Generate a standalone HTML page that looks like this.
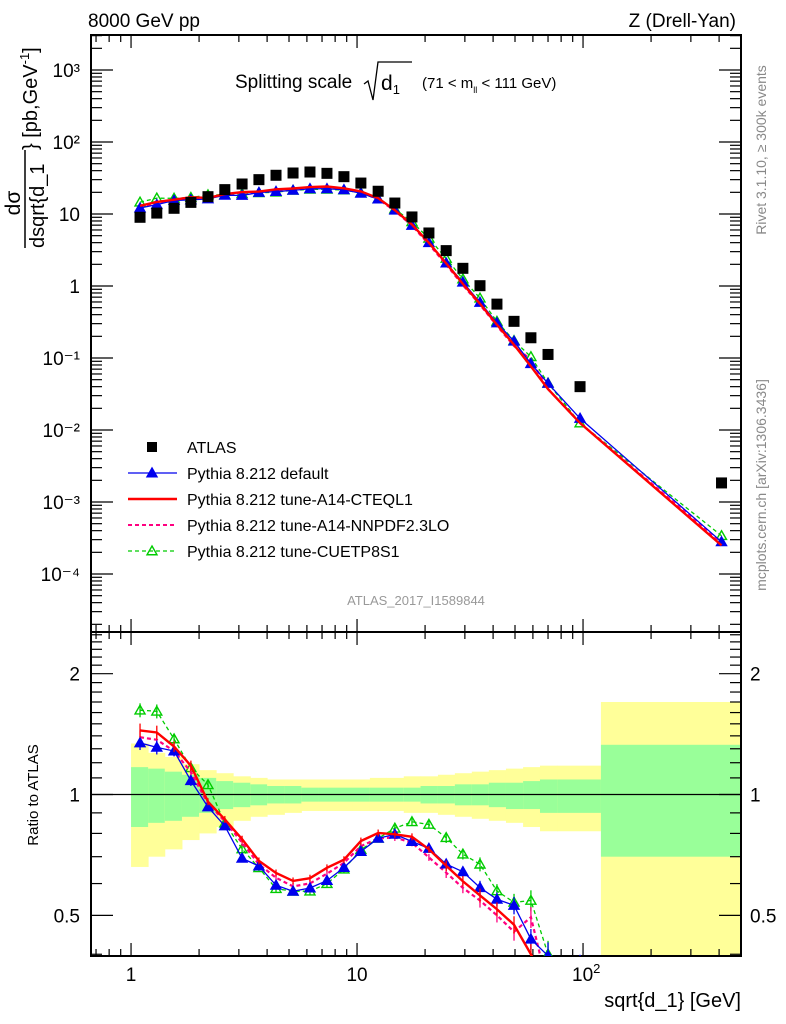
<!DOCTYPE html>
<html><head><meta charset="utf-8">
<style>
html,body{margin:0;padding:0;background:#fff;overflow:hidden;}
svg{display:block;font-family:"Liberation Sans","DejaVu Sans",sans-serif;}
</style></head>
<body>
<svg id="chart" width="786" height="1024" viewBox="0 0 786 1024" xmlns="http://www.w3.org/2000/svg">
<text x="88" y="27" font-size="19">8000 GeV pp</text>
<text x="736" y="27" font-size="19" text-anchor="end">Z (Drell-Yan)</text>
<text x="235" y="88" font-size="19">Splitting scale</text>
<path d="M364 84 L368 81 L373 100 L378 62 L412 62" stroke="#000" stroke-width="1.3" fill="none"/>
<text x="381" y="90" font-size="21">d<tspan font-size="13" dy="4">1</tspan></text>
<text x="422" y="88" font-size="15">(71 &lt; m<tspan font-size="9" dy="5">ll</tspan><tspan dy="-5"> &lt; 111 GeV)</tspan></text>
<text transform="translate(766,150) rotate(-90)" font-size="14" fill="#888" text-anchor="middle">Rivet 3.1.10, ≥ 300k events</text>
<text transform="translate(766,485) rotate(-90)" font-size="14" fill="#888" text-anchor="middle">mcplots.cern.ch [arXiv:1306.3436]</text>
<text x="416" y="605" font-size="13" fill="#999" text-anchor="middle">ATLAS_2017_I1589844</text>
<g transform="rotate(-90)">
<text x="-203" y="20" font-size="21" text-anchor="middle">dσ</text>
<line x1="-248" y1="25" x2="-150" y2="25" stroke="#000" stroke-width="1.5"/>
<text x="-248" y="44" font-size="20">dsqrt{d_1</text>
<text x="-150" y="37" font-size="20">} [pb,GeV<tspan font-size="13" dy="-8">-1</tspan><tspan dy="8">]</tspan></text>
</g>
<text transform="translate(38,795) rotate(-90)" font-size="15" text-anchor="middle">Ratio to ATLAS</text>
<text x="741" y="1007" font-size="20" text-anchor="end">sqrt{d_1} [GeV]</text>
<g id="g"></g>
</svg>
<script>
// ---- data ----
const xCenters = [1.096,1.30,1.55,1.84,2.19,2.60,3.10,3.68,4.38,5.21,6.19,7.36,8.75,10.4,12.4,14.7,17.5,20.8,24.8,29.4,35.0,41.6,49.5,58.8,70.0,97,410];
const binEdges = [1.0,1.19,1.41,1.68,2.0,2.38,2.83,3.37,4.0,4.77,5.67,6.75,8.03,9.55,11.4,13.5,16.1,19.1,22.8,27.1,32.2,38.3,45.6,54.3,64.5,76.8,120,500];
const atlasValues = [9.0,10.3,12.0,14.5,17.4,21.8,26.1,30.0,34.5,37.1,38.3,36.7,33.0,26.9,20.7,14.2,9.1,5.45,3.1,1.76,1.01,0.56,0.323,0.191,0.112,0.040,0.00184];
const pyDefault = [12.1,13.5,15.4,15.7,16.2,18.2,18.1,19.9,20.5,21.3,22.4,22.4,21.7,19.4,16.1,11.3,6.95,4.0,2.08,1.13,0.592,0.307,0.171,0.0833,0.0444,0.0145,0.00028];
const pyCTEQ = [13.0,14.7,15.8,17.1,16.7,18.9,20.2,20.5,22.0,22.6,23.7,24.1,22.7,20.6,16.6,11.3,7.14,3.98,2.06,1.07,0.566,0.290,0.153,0.0764,0.037,0.0125,0.00025];
const pyNNPDF = [12.5,14.1,15.4,16.5,16.5,18.7,19.8,20.1,21.4,21.9,23.0,23.3,22.3,20.0,16.1,11.1,6.9,3.8,1.98,1.03,0.55,0.28,0.147,0.0945,0.037,0.0125,0.00027];
const pyCUETP = [14.6,16.6,16.5,16.9,18.4,18.5,19.1,19.7,20.1,21.3,22.0,22.0,21.5,19.6,16.1,11.7,7.78,4.59,2.42,1.25,0.677,0.322,0.174,0.104,0.0448,0.0125,0.00034];
const yellowUp = [1.34,1.27,1.24,1.19,1.15,1.13,1.11,1.10,1.09,1.09,1.09,1.09,1.09,1.09,1.10,1.10,1.11,1.11,1.12,1.13,1.14,1.15,1.16,1.17,1.18,1.18,1.70];
const yellowDn = [0.66,0.70,0.73,0.77,0.80,0.83,0.86,0.88,0.89,0.90,0.91,0.91,0.91,0.91,0.91,0.91,0.90,0.90,0.89,0.88,0.87,0.86,0.85,0.83,0.81,0.81,0.30];
const greenUp = [1.17,1.16,1.14,1.12,1.10,1.08,1.07,1.06,1.05,1.05,1.04,1.04,1.04,1.04,1.04,1.04,1.04,1.05,1.05,1.06,1.06,1.07,1.07,1.08,1.09,1.09,1.33];
const greenDn = [0.83,0.85,0.86,0.88,0.90,0.92,0.93,0.94,0.95,0.95,0.96,0.96,0.96,0.96,0.96,0.96,0.96,0.95,0.95,0.94,0.94,0.93,0.92,0.92,0.90,0.90,0.70];
const mcRelErr = [0.04,0.04,0.03,0.03,0.02,0.02,0.02,0.02,0.02,0.02,0.02,0.02,0.02,0.02,0.02,0.02,0.02,0.02,0.03,0.03,0.04,0.04,0.05,0.06,0.08,0.1,0.15];
const mainTicks = [3,2,1,0,-1,-2,-3,-4];
const mainTickLabels = ["10³","10²","10","1","10⁻¹","10⁻²","10⁻³","10⁻⁴"];

// ---- axes ----
const L=91,R=741,T1=35,B1=632,T2=632,B2=956;
const xMin=Math.log10(0.665),xMax=Math.log10(500);
const X=v=>L+(Math.log10(v)-xMin)/(xMax-xMin)*(R-L);
const yMainTop=3+(70-T1)/72, yMainBot=3-(B1-70)/72;
const Ym=v=>T1+(yMainTop-Math.log10(v))/(yMainTop-yMainBot)*(B1-T1);
const rTop=Math.log10(2.54), rBot=Math.log10(0.396);
const Yr=v=>T2+(rTop-Math.log10(v))/(rTop-rBot)*(B2-T2);

const NS='http://www.w3.org/2000/svg';
const g=document.getElementById('g');
function mk(tag,attrs,parent){const e=document.createElementNS(NS,tag);for(const k in attrs)e.setAttribute(k,attrs[k]);(parent||g).appendChild(e);return e;}

const defs=mk('defs',{});
const cp=mk('clipPath',{id:'rclip'},defs);mk('rect',{x:L,y:T2,width:R-L,height:B2-T2},cp);
const cpm=mk('clipPath',{id:'mclip'},defs);mk('rect',{x:L,y:T1,width:R-L,height:B1-T1},cpm);
const bands=mk('g',{'clip-path':'url(#rclip)'});


for(let i=0;i<xCenters.length;i++){
  const x0=X(binEdges[i]),x1=X(binEdges[i+1]);
  const y=mk('rect',{x:x0,y:Yr(yellowUp[i]),width:x1-x0+0.5,height:Yr(yellowDn[i])-Yr(yellowUp[i]),fill:'#ffff99'},bands);
  
  
  const gr=mk('rect',{x:x0,y:Yr(greenUp[i]),width:x1-x0+0.5,height:Yr(greenDn[i])-Yr(greenUp[i]),fill:'#99ff99'},bands);
  
  
}
const one=mk('line',{x1:L,x2:R,y1:Yr(1),y2:Yr(1),stroke:'#000','stroke-width':1.2});



function frame(top,bot,name){
  const f=mk('rect',{x:L,y:top,width:R-L,height:bot-top,fill:'none',stroke:'#000','stroke-width':2});
  
  
  for(let d=-1;d<=2;d++)for(let m=1;m<10;m++){const v=m*Math.pow(10,d);if(v<0.665||v>500)continue;const x=X(v);const len=m==1?13:7;
    mk('line',{x1:x,x2:x,y1:bot,y2:bot-len,stroke:'#000','stroke-width':1.2});
    mk('line',{x1:x,x2:x,y1:top,y2:top+len,stroke:'#000','stroke-width':1.2});}
}
frame(T1,B1,'main-plot-frame');frame(T2,B2,'ratio-plot-frame');
for(let d=-5;d<=3;d++)for(let m=1;m<10;m++){const v=m*Math.pow(10,d);const y=Ym(v);if(y<T1||y>B1)continue;const len=m==1?22:11;
  mk('line',{x1:L,x2:L+len,y1:y,y2:y,stroke:'#000','stroke-width':1.2});
  mk('line',{x1:R,x2:R-len,y1:y,y2:y,stroke:'#000','stroke-width':1.2});}
mainTicks.forEach((p,i)=>{const t=mk('text',{x:80,y:Ym(Math.pow(10,p))+7,'font-size':19,'text-anchor':'end'});t.textContent=mainTickLabels[i];
  
  });
[0.4,0.5,0.6,0.7,0.8,0.9,1,1.1,1.2,1.3,1.4,1.5,1.6,1.7,1.8,1.9,2,2.1,2.2,2.3,2.4,2.5].forEach(v=>{const y=Yr(v);if(y<T2||y>B2)return;const len=(v==0.5||v==1||v==2)?22:11;
  mk('line',{x1:L,x2:L+len,y1:y,y2:y,stroke:'#000','stroke-width':1.2});
  mk('line',{x1:R,x2:R-len,y1:y,y2:y,stroke:'#000','stroke-width':1.2});});
[[2,'2'],[1,'1'],[0.5,'0.5']].forEach(([v,s])=>{
  const t=mk('text',{x:80,y:Yr(v)+7,'font-size':19,'text-anchor':'end'});t.textContent=s;
  
  
  const t2=mk('text',{x:750,y:Yr(v)+7,'font-size':19});t2.textContent=s;
  
  });
[[1,'1'],[10,'10']].forEach(([v,s])=>{const t=mk('text',{x:X(v),y:981,'font-size':19,'text-anchor':'middle'});t.textContent=s;
  
  });
const t100=mk('text',{x:X(100)-11,y:981,'font-size':19});t100.innerHTML='10<tspan font-size="13" dy="-8">2</tspan>';



function tri(parent,x,y,col,filled,s){return mk('path',{d:`M${x} ${y-s} L${x+s} ${y+s*0.75} L${x-s} ${y+s*0.75} Z`,fill:filled?col:'none',stroke:col,'stroke-width':1.4},parent);}
const series=[
 {vals:pyCUETP,col:'#00cc00',dash:'4,3',w:1.3,mark:'open',name:'cuetp8s1'},
 {vals:pyNNPDF,col:'#ff0080',dash:'4,3',w:2.2,mark:'none',name:'a14-nnpdf'},
 {vals:pyDefault,col:'#0000ee',dash:'',w:1.3,mark:'filled',name:'default'},
 {vals:pyCTEQ,col:'#ff0000',dash:'',w:2.4,mark:'none',name:'a14-cteql1'}
];
series.forEach(s=>{
  const gm=mk('g',{'clip-path':'url(#mclip)'});
  
  
  const pts=s.vals.map((v,i)=>X(xCenters[i])+','+Ym(v)).join(' ');
  mk('polyline',{points:pts,fill:'none',stroke:s.col,'stroke-width':s.w,'stroke-dasharray':s.dash},gm);
  s.vals.forEach((v,i)=>{if(s.mark!='none')tri(gm,X(xCenters[i]),Ym(v),s.col,s.mark=='filled',5);});
  const gr=mk('g',{'clip-path':'url(#rclip)'});
  
  
  const r=s.vals.map((v,i)=>v/atlasValues[i]);
  mk('polyline',{points:r.map((v,i)=>X(xCenters[i])+','+Yr(v)).join(' '),fill:'none',stroke:s.col,'stroke-width':s.w,'stroke-dasharray':s.dash},gr);
  r.forEach((v,i)=>{const x=X(xCenters[i]);
    mk('line',{x1:x,x2:x,y1:Yr(v*(1+mcRelErr[i])),y2:Yr(v*(1-mcRelErr[i])),stroke:s.col,'stroke-width':1.3},gr);
    if(s.mark!='none')tri(gr,x,Yr(v),s.col,s.mark=='filled',5);});
});
const ga=mk('g',{});


atlasValues.forEach((v,i)=>{const p=mk('rect',{x:X(xCenters[i])-5.5,y:Ym(v)-5.5,width:11,height:11,fill:'#000'},ga);
  
  });

const leg=[['ATLAS','sq','#000',''],['Pythia 8.212 default','filled','#0000ee',''],['Pythia 8.212 tune-A14-CTEQL1','line','#ff0000',''],['Pythia 8.212 tune-A14-NNPDF2.3LO','line','#ff0080','4,3'],['Pythia 8.212 tune-CUETP8S1','open','#00cc00','4,3']];
leg.forEach((e,i)=>{const y=447+i*26;const lg=mk('g',{});
  
  
  if(e[1]=='sq')mk('rect',{x:147,y:y-5,width:10,height:10,fill:'#000'},lg);
  else{mk('line',{x1:128,x2:177,y1:y,y2:y,stroke:e[2],'stroke-width':e[1]=='line'&&e[3]==''?2.4:(e[1]=='line'?2:1.3),'stroke-dasharray':e[3]},lg);
    if(e[1]!='line')tri(lg,152,y,e[2],e[1]=='filled',5);}
  const t=mk('text',{x:187,y:y+6,'font-size':16},lg);t.textContent=e[0];});
</script>
</body></html>
